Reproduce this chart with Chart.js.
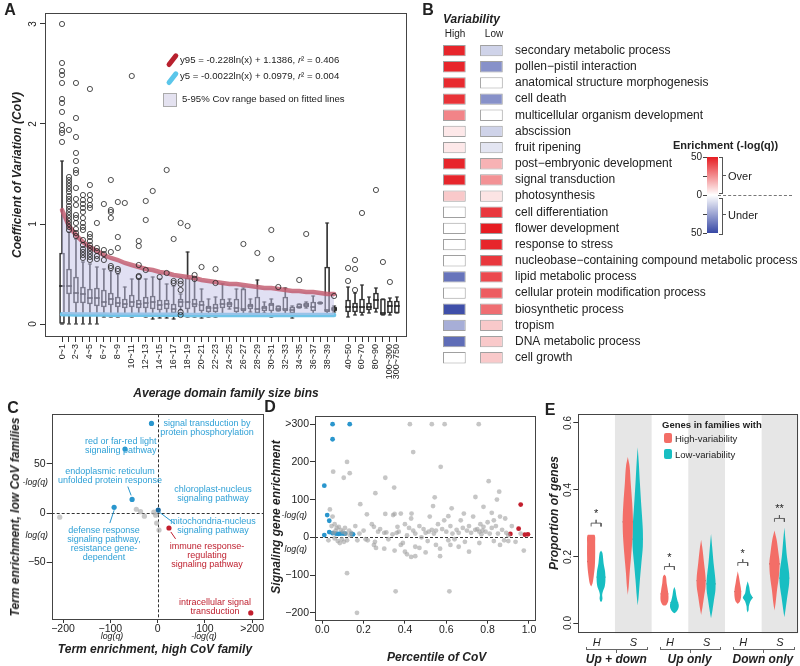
<!DOCTYPE html>
<html>
<head>
<meta charset="utf-8">
<script src="https://cdn.jsdelivr.net/npm/chart.js@4.4.1/dist/chart.umd.min.js"></script>
<style>
  html, body { margin:0; padding:0; background:#fff; }
  #fig { position:relative; width:800px; height:666px; overflow:hidden; font-family:"Liberation Sans", Arial, sans-serif; color:#222; }
  #fig canvas { position:absolute; }
  .t { position:absolute; white-space:nowrap; line-height:1; }
  .c { transform:translate(-50%,-50%); }
  .l { transform:translate(0,-50%); }
  .r { transform:translate(-100%,-50%); }
  .v { transform:translate(-50%,-50%) rotate(-90deg); }
  .b { transform:translate(-50%,0); text-align:center; }
  .bi { font-weight:bold; font-style:italic; }
  .ln { position:absolute; }
</style>
</head>
<body>
<div id="fig"></div>
<script>
// ===================================== Datos: panel A (cajas por bin) ==================
const binLabels = ["0~1","1~2","2~3","3~4","4~5","5~6","6~7","7~8","8~9","9~10","10~11","11~12","12~13","13~14","14~15","15~16","16~17","17~18","18~19","19~20",
  "20~21","21~22","22~23","23~24","24~25","25~26","26~27","27~28","28~29","29~30","30~31","31~32","32~33","33~34","34~35","35~36","36~37","37~38","38~39","39~40",
  "40~50","50~60","60~70","70~80","80~90","90~100","100~300","300~750"];
const boxLo  = [0,0,0,0,0,0,.07,.07,.07,.08,.07,.08,.07,.05,.06,.06,.05,.14,.07,.07,.06,.07,.07,.08,.15,.10,.10,.12,.10,.11,.07,.13,.10,.06,.16,.16,.08,.20,.09,.12, .07,.09,.09,.11,.12,.09,.09,.11];
const boxQ1  = [0,.30,.21,.21,.20,.18,.17,.19,.17,.16,.17,.16,.16,.15,.14,.15,.11,.17,.15,.17,.13,.12,.12,.16,.17,.12,.13,.15,.11,.13,.13,.13,.13,.11,.16,.17,.13,.205,.12,.13, .12,.12,.11,.14,.15,.09,.11,.11];
const boxMed = [.38,.38,.31,.30,.26,.26,.22,.25,.21,.20,.22,.20,.21,.22,.19,.20,.15,.22,.22,.20,.19,.16,.16,.20,.20,.16,.15,.18,.15,.16,.19,.15,.15,.14,.17,.19,.17,.21,.14,.15, .17,.17,.17,.17,.24,.11,.18,.18];
const boxQ3  = [.71,.55,.47,.37,.35,.36,.34,.31,.27,.25,.29,.24,.27,.28,.24,.24,.20,.25,.46,.25,.23,.18,.20,.25,.22,.25,.35,.20,.27,.18,.21,.18,.27,.17,.20,.21,.22,.215,.57,.17, .24,.21,.25,.21,.31,.25,.23,.23];
const boxHi  = [1.63,.92,.85,.62,.60,.57,.55,.53,.50,.37,.45,.45,.45,.47,.45,.40,.38,.30,.72,.45,.35,.25,.27,.40,.25,.35,.36,.25,.44,.22,.25,.18,.36,.18,.20,.22,.28,.22,1.01,.18, .37,.31,.39,.27,.36,.25,.26,.27];
const outCoV = [
  [3.0,2.61,2.53,2.49,2.41,2.25,2.21,2.12,1.99,1.94,1.91,1.82],
  [1.94,1.47,1.44,1.41,1.38,1.35,1.32,1.28,1.25,1.22,1.18,1.15,1.12,1.09,1.06,1.03,1.0,.97,.94],
  [2.41,2.06,1.87,1.71,1.63,1.54,1.51,1.36,1.25,1.19,1.09,1.06,1.01,.95,.91,.88],
  [1.29,1.24,1.2,1.16,1.12,1.06,1.01,.97,.94,.84,.79,.75,.72,.69,.66],
  [2.35,1.39,1.29,1.24,1.19,1.16,.9,.87,.83,.79,.76,.73,.70,.67,.64],
  [1.01,.76,.73,.68,.65], [1.20,.74,.70,.64], [1.44,1.14,1.12,1.06,.72,.58,.56], [1.22,.87,.76,.55,.53], [1.21],
  [2.48], [.83,.78,.59,.48,.47], [1.23,1.04,.54], [1.33], [.47], [1.54,.51], [.85,.43,.41], [1.01,.43,.40,.34,.12,.09], [.98], [.49,.45],
  [.57], [], [.55,.41], [], [], [], [.80], [], [.71], [],
  [.94,.65], [.37], [], [], [.44], [.90], [], [], [], [.28],
  [.56,.43], [.64,.55,.34], [1.11], [], [1.34], [.62], [.42], []
];
const y95Vals = [1.14,.98,.89,.82,.77,.73,.69,.66,.64,.61,.59,.57,.55,.54,.52,.51,.49,.48,.47,.46,.44,.43,.42,.41,.40,.40,.39,.38,.37,.36,.36,.35,.34,.33,.33,.32,.32,.31,.30,.30];
const y5Vals  = [.098,.097,.096,.095,.094,.094,.094,.093,.093,.093,.093,.092,.092,.092,.092,.092,.092,.092,.091,.091,.091,.091,.091,.091,.091,.091,.091,.091,.091,.091,.090,.090,.090,.090,.090,.090,.090,.090,.090,.090];
const ticksCoV = [0, 1, 2, 3];

// ===================================== Datos: panel B (enriquecimiento GO) ==================
const terminos = ["secondary metabolic process","pollen\u2212pistil interaction","anatomical structure morphogenesis","cell death",
  "multicellular organism development","abscission","fruit ripening","post\u2212embryonic development","signal transduction","photosynthesis",
  "cell differentiation","flower development","response to stress","nucleobase\u2212containing compound metabolic process","lipid metabolic process",
  "cellular protein modification process","biosynthetic process","tropism","DNA metabolic process","cell growth"];
const enrHigh = [48,48,47,45,27,5,5,48,48,12,0,0,0,0,-38,0,-48,-22,-40,0];
const enrLow  = [-12,-30,0,-30,0,-12,-7,17,24,6,44,50,48,44,40,36,32,12,12,12];

// ===================================== Datos: panel C ==================
const cGris = [[-207,-4],[-36,1.5],[-28,-3],[-4,-2],[-2,-10],[3,-17],[-8,1],[-45,4]];
const cAzul = [[-13,91],[-69,65],[-54,14],[-92,6]];
const cAzulOsc = [[1.3,3.2]];
const cRojo = [[24,-15],[197,-101]];
const cGuiasAzul = [[[-63,27],[-56,18]], [[-101,-10],[-92,3]], [[4,1],[37,-11]]];
const cGuiasRojo = [[[28,-19],[38,-26]]];

// ===================================== Datos: panel D ==================
const dGris = [
  [.424,300],[.53,300],[.592,300],[.757,300],
  [.12,200],[.133,170],[.053,174],[.104,158],[.44,226],[.573,187],[.305,158],[.348,132],[.257,117],[.805,149],[.856,121],[.845,100],[.741,107],[.544,106],[.184,88],[.037,74],
  [.536,83],[.61,56],[.626,77],[.216,61],[.305,62],[.343,59],[.432,63],[.38,63],[.685,63],[.78,81],[.82,65],[.885,50],[.917,30],[.364,28],
  [.12,-95],[.168,-200],[.355,-143],[.615,-143],
  [.45,-25],[.47,-28],[.5,-40],[.41,-45],[.43,-52],[.57,-50],[.57,-30],[.3,-30],[.25,-20],[.26,-28],[.35,-35],[.4,-38],[.66,-25],[.71,-38],[.55,-20],[.62,-20],
  [.39,-15],[.76,-15],[.83,-10],[.86,-20],[.9,-10],[.935,-12],[.975,-35],[.45,-50],
  [.03,-8],[.045,30],[.06,35],[.065,18],[.07,25],[.075,-10],[.08,28],[.085,-15],[.09,20],[.095,-5],[.1,15],[.105,-12],[.11,25],[.115,10],[.12,-8],[.13,18],[.135,5],
  [.06,-3],[.05,55],[.055,12],[.14,12],[.16,30],[.17,-8],[.18,10],[.2,18],[.21,-5],[.22,-8],[.24,35],[.25,28],[.255,-12],[.27,15],[.28,22],[.3,12],[.31,13],[.32,-5],
  [.34,8],[.35,62],[.36,12],[.37,15],[.38,-20],[.4,35],[.41,5],[.42,25],[.43,50],[.44,18],[.45,10],[.47,30],[.48,0],[.49,22],[.5,12],[.51,-10],[.515,15],[.52,55],
  [.53,20],[.54,10],[.55,18],[.56,35],[.58,22],[.59,45],[.6,15],[.61,-8],[.62,30],[.63,10],[.64,-5],[.65,20],[.66,12],[.67,45],[.68,25],[.69,-12],[.7,18],[.71,30],
  [.72,12],[.73,55],[.74,20],[.75,22],[.76,15],[.765,35],[.77,8],[.775,18],[.78,28],[.79,15],[.8,40],[.81,10],[.82,25],[.83,45],[.84,30],[.85,10],[.86,55],[.87,20],
  [.88,-8],[.89,12],[.9,5],[.96,10]
];
const dAzul = [[.010,6],[.024,59],[.034,44],[.034,14],[.010,137],[.050,260],[.050,300],[.133,300],[.05,11],[.066,10],[.077,9],[.089,10],[.101,10],[.111,10],[.143,9],[.149,8]];
const dRojo = [[.96,87],[.95,23],[.91,9],[.98,7],[.995,8]];

// ===================================== Datos: panel E (violines: [proporcion, semiancho]) ==================
const grupos = ["Up + down", "Up only", "Down only"];
const columnasE = ["H", "S", "H", "S", "H", "S"];
const violinAlta = [
  [[.265,0],[.264,.1],[.24,.11],[.2,.11],[.17,.1],[.14,.07],[.12,.04],[.11,0]],
  [[.498,0],[.47,.05],[.42,.08],[.36,.12],[.31,.14],[.26,.13],[.2,.09],[.15,.05],[.11,.025],[.085,0]],
  [[.146,0],[.14,.04],[.12,.06],[.1,.09],[.08,.11],[.065,.1],[.055,.05],[.053,0]],
  [[.25,0],[.22,.04],[.18,.08],[.14,.12],[.11,.12],[.08,.08],[.05,.04],[.025,0]],
  [[.156,0],[.14,.03],[.12,.06],[.1,.09],[.08,.09],[.065,.06],[.058,0]],
  [[.278,0],[.25,.06],[.21,.11],[.18,.14],[.14,.12],[.1,.07],[.06,.03],[.038,0]]
];
const violinBaja = [
  [[.218,0],[.21,.04],[.18,.07],[.155,.11],[.13,.12],[.11,.1],[.095,.05],[.085,.03],[.075,.04],[.067,.025],[.064,0]],
  [[.527,0],[.48,.03],[.42,.06],[.35,.1],[.28,.14],[.23,.14],[.18,.1],[.13,.06],[.08,.025],[.053,0]],
  [[.109,0],[.1,.03],[.085,.05],[.07,.08],[.055,.12],[.045,.11],[.035,.06],[.03,0]],
  [[.268,0],[.23,.03],[.18,.07],[.13,.12],[.1,.12],[.07,.08],[.04,.04],[.015,0]],
  [[.126,0],[.11,.04],[.09,.07],[.077,.13],[.065,.07],[.05,.03],[.04,.025],[.032,0]],
  [[.287,0],[.25,.03],[.2,.07],[.15,.13],[.12,.13],[.08,.08],[.04,.03],[.018,0]]
];
const medAlta = [.185,.304,.088,.128,.095,.178];
const medBaja = [.138,.252,.062,.118,.077,.135];
const sigCol = [0, 2, 4, 5];
const sigY = [.30, .17, .182, .314];
const sigTxt = ["*", "*", "*", "**"];
const ticksProp = [0, .2, .4, .6];

// ===================================== Utilidades ==================
Chart.defaults.font.family = '"Liberation Sans", Arial, sans-serif';
Chart.defaults.color = "#222";

const fig = document.getElementById("fig");

function lienzo(x, y, w, h) {
  const c = document.createElement("canvas");
  c.width = w; c.height = h;
  c.style.left = x + "px"; c.style.top = y + "px";
  c.style.width = w + "px"; c.style.height = h + "px";
  fig.appendChild(c);
  return c;
}

function texto(html, x, y, estilo, clase) {
  const d = document.createElement("div");
  d.className = "t " + (clase || "c");
  d.style.left = x + "px";
  d.style.top = y + "px";
  if (estilo) d.style.cssText += ";" + estilo;
  d.innerHTML = html;
  fig.appendChild(d);
  return d;
}

function linea(x, y, w, h, estilo) {
  const d = document.createElement("div");
  d.className = "ln";
  d.style.cssText = `left:${x}px;top:${y}px;width:${w}px;height:${h}px;` + (estilo || "");
  fig.appendChild(d);
  return d;
}

function opcionesBase(padding) {
  return {
    responsive: false,
    devicePixelRatio: 1,
    animation: false,
    events: [],
    layout: { padding },
    plugins: { legend: { display: false }, tooltip: { enabled: false } }
  };
}

function fijarTicks(valores) {
  return s => { s.ticks = valores.map(v => ({ value: v })); };
}

function menos(v) {
  return v < 0 ? "\u2212" + Math.abs(v) : String(v);
}

// marco alrededor del area del grafico
const marco = {
  id: "marco",
  afterDatasetsDraw(chart) {
    const { ctx, chartArea: a } = chart;
    ctx.save();
    ctx.strokeStyle = "#444";
    ctx.lineWidth = 1;
    ctx.strokeRect(Math.round(a.left) + 0.5, Math.round(a.top) + 0.5, Math.round(a.width) - 1, Math.round(a.height) - 1);
    ctx.restore();
  }
};

// lineas punteadas en cero
const ceros = {
  id: "ceros",
  beforeDatasetsDraw(chart, args, opts) {
    const { ctx, chartArea: a, scales } = chart;
    ctx.save();
    ctx.setLineDash([3, 2]);
    ctx.strokeStyle = "#333";
    ctx.lineWidth = 1;
    ctx.beginPath();
    if (opts.y) {
      const py = Math.round(scales.y.getPixelForValue(0)) + 0.5;
      ctx.moveTo(a.left, py); ctx.lineTo(a.right, py);
    }
    if (opts.x) {
      const px = Math.round(scales.x.getPixelForValue(0)) + 0.5;
      ctx.moveTo(px, a.top); ctx.lineTo(px, a.bottom);
    }
    ctx.stroke();
    ctx.restore();
  }
};

// bandas grises de las columnas S
const bandas = {
  id: "bandas",
  beforeDatasetsDraw(chart, args, opts) {
    const { ctx, chartArea: a, scales } = chart;
    ctx.save();
    ctx.fillStyle = "#e6e6e6";
    opts.cols.forEach(k => {
      const x0 = scales.x.getPixelForValue(k), x1 = scales.x.getPixelForValue(k + 1);
      ctx.fillRect(x0, a.top, x1 - x0, a.bottom - a.top);
    });
    ctx.restore();
  }
};

function colorEnr(v) {
  const t = Math.min(Math.abs(v) / 50, 1);
  const fin = v >= 0 ? [230, 28, 34] : [55, 72, 165];
  const c = fin.map(f => Math.round(255 + (f - 255) * t));
  return `rgb(${c[0]},${c[1]},${c[2]})`;
}

// ===================================== Panel A ==================
const posA = binLabels.map((l, i) => i < 40 ? i + 1 : i + 2);
const etiquetasA = binLabels.map((l, i) => (i < 40 ? i % 2 === 0 : [40, 42, 44, 46, 47].includes(i)) ? l : "");

const puntosOut = [];
outCoV.forEach((vals, i) => vals.forEach(v => puntosOut.push({ x: posA[i], y: v })));

const chartA = new Chart(lienzo(0, 0, 415, 400), {
  type: "bar",
  data: {
    datasets: [
      { type: "line", data: puntosOut, showLine: false, pointStyle: "circle", pointRadius: 2.6, pointBorderWidth: 0.8,
        pointBorderColor: "#222", pointBackgroundColor: "rgba(0,0,0,0)", order: 0 },
      { type: "line", data: y95Vals.map((v, i) => ({ x: i + 1, y: v })), borderColor: "rgba(192,86,106,0.8)", borderWidth: 4.5,
        borderCapStyle: "round", pointRadius: 0, fill: "+1", backgroundColor: "rgba(196,194,232,0.5)", order: 1 },
      { type: "line", data: y5Vals.map((v, i) => ({ x: i + 1, y: v })), borderColor: "rgb(112,196,232)", borderWidth: 4.5,
        borderCapStyle: "round", pointRadius: 0, fill: false, order: 2 },
      { type: "line", data: boxMed.map((v, i) => ({ x: posA[i], y: v })), showLine: false, pointStyle: "line", pointRadius: 2.8,
        pointBorderWidth: 1.6, pointBorderColor: "#222", order: 3 },
      { type: "bar", data: boxQ1.map((v, i) => ({ x: posA[i], y: [v, boxQ3[i]] })), backgroundColor: "rgba(255,255,255,0)",
        borderColor: "#333", borderWidth: 1, borderSkipped: false, barThickness: 5, grouped: false, order: 4 },
      { type: "line", data: boxLo.map((v, i) => ({ x: posA[i], y: v })).concat(boxHi.map((v, i) => ({ x: posA[i], y: v }))),
        showLine: false, pointStyle: "line", pointRadius: 2, pointBorderWidth: 1, pointBorderColor: "#222", order: 5 },
      { type: "bar", data: boxLo.map((v, i) => ({ x: posA[i], y: [v, boxQ1[i]] })), backgroundColor: "#333",
        barThickness: 1, grouped: false, order: 6 },
      { type: "bar", data: boxQ3.map((v, i) => ({ x: posA[i], y: [v, boxHi[i]] })), backgroundColor: "#333",
        barThickness: 1, grouped: false, order: 7 }
    ]
  },
  options: Object.assign(opcionesBase({ left: 0, top: 13, right: 8, bottom: 0 }), {
    scales: {
      x: {
        type: "linear", min: -1.44, max: 50.45, offset: false,
        afterBuildTicks: fijarTicks(posA),
        afterFit: s => { s.height = 63; },
        ticks: { autoSkip: false, minRotation: 90, maxRotation: 90, font: { size: 9 }, padding: 2, callback: (v, i) => etiquetasA[i] },
        grid: { drawOnChartArea: false, tickLength: 5, color: "#333", offset: false },
        border: { display: false }
      },
      y: {
        min: -0.13, max: 3.11,
        afterBuildTicks: fijarTicks(ticksCoV),
        afterFit: s => { s.width = 45; },
        ticks: { display: false },
        grid: { drawOnChartArea: false, tickLength: 5, color: "#333" },
        border: { display: false }
      }
    }
  }),
  plugins: [marco]
});

// ===================================== Panel B ==================
const colHigh = [0, 1];
const colLow = [1.63, 2.63];
const estiloCelda = { barPercentage: 0.7, categoryPercentage: 1, grouped: false, borderColor: "#a0a0a0", borderWidth: 1, borderSkipped: false };

const chartB = new Chart(lienzo(420, 0, 380, 380), {
  type: "bar",
  data: {
    labels: terminos,
    datasets: [
      Object.assign({ data: enrHigh.map(() => colHigh), backgroundColor: enrHigh.map(colorEnr) }, estiloCelda),
      Object.assign({ data: enrLow.map(() => colLow), backgroundColor: enrLow.map(colorEnr) }, estiloCelda)
    ]
  },
  options: Object.assign(opcionesBase({ left: 23, top: 42.5, right: 0, bottom: 9.1 }), {
    indexAxis: "y",
    scales: {
      x: { display: false, min: 0, max: 2.86 },
      y: {
        position: "right",
        grid: { display: false, drawTicks: false },
        border: { display: false },
        ticks: { autoSkip: false, font: { size: 12 }, padding: 7, color: "#222" },
        afterFit: s => { s.width = 292; }
      }
    }
  })
});

// ===================================== Panel C ==================
const puntos = arr => arr.map(p => ({ x: p[0], y: p[1] }));
const guias = (arr, color) => arr.map(g => ({ type: "line", data: puntos(g), showLine: true, borderColor: color, borderWidth: 1, pointRadius: 0 }));

const chartC = new Chart(lienzo(0, 400, 268, 266), {
  type: "scatter",
  data: {
    datasets: [
      ...guias(cGuiasAzul, "rgb(42,150,205)"),
      ...guias(cGuiasRojo, "rgb(190,30,45)"),
      { data: puntos(cGris), pointRadius: 2.6, backgroundColor: "rgba(170,170,170,0.65)", borderWidth: 0 },
      { data: puntos(cAzul), pointRadius: 2.6, backgroundColor: "rgb(42,150,205)", borderWidth: 0 },
      { data: puntos(cAzulOsc), pointRadius: 2.6, backgroundColor: "rgb(25,105,160)", borderWidth: 0 },
      { data: puntos(cRojo), pointRadius: 2.6, backgroundColor: "rgb(195,30,45)", borderWidth: 0 }
    ]
  },
  options: Object.assign(opcionesBase({ left: 0, top: 14.3, right: 3.7, bottom: 0 }), {
    scales: {
      x: {
        min: -224, max: 225,
        afterBuildTicks: fijarTicks([-200, -100, 0, 100, 200]),
        afterFit: s => { s.height = 46; },
        ticks: { font: { size: 10.5 }, padding: 0, callback: v => v === 200 ? ">200" : menos(v) },
        grid: { drawOnChartArea: false, tickLength: 3, color: "#333" },
        border: { display: false }
      },
      y: {
        min: -108.2, max: 100.2,
        afterBuildTicks: fijarTicks([-50, 0, 50]),
        afterFit: s => { s.width = 51.7; },
        ticks: { font: { size: 10.5 }, padding: 1, callback: v => menos(v) },
        grid: { drawOnChartArea: false, tickLength: 5, color: "#333" },
        border: { display: false }
      }
    },
    plugins: { legend: { display: false }, tooltip: { enabled: false }, ceros: { x: true, y: true } }
  }),
  plugins: [marco, ceros]
});

// ===================================== Panel D ==================
const chartD = new Chart(lienzo(268, 400, 272, 266), {
  type: "scatter",
  data: {
    datasets: [
      { data: puntos(dGris), pointRadius: 2.4, backgroundColor: "rgba(160,160,160,0.6)", borderWidth: 0 },
      { data: puntos(dAzul), pointRadius: 2.4, backgroundColor: "rgb(42,150,205)", borderWidth: 0 },
      { data: puntos(dRojo), pointRadius: 2.4, backgroundColor: "rgb(195,30,45)", borderWidth: 0 }
    ]
  },
  options: Object.assign(opcionesBase({ left: 0, top: 15.7, right: 2, bottom: 0 }), {
    scales: {
      x: {
        min: -0.035, max: 1.034,
        afterBuildTicks: fijarTicks([0, .2, .4, .6, .8, 1]),
        afterFit: s => { s.height = 45.3; },
        ticks: { font: { size: 10.5 }, padding: 0, callback: v => v.toFixed(1) },
        grid: { drawOnChartArea: false, tickLength: 3, color: "#333" },
        border: { display: false }
      },
      y: {
        min: -221, max: 322.5,
        afterBuildTicks: fijarTicks([-200, -100, 0, 100, 200, 300]),
        afterFit: s => { s.width = 47; },
        ticks: { font: { size: 10.5 }, padding: 1, callback: v => v === 300 ? ">300" : menos(v) },
        grid: { drawOnChartArea: false, tickLength: 5, color: "#333" },
        border: { display: false }
      }
    },
    plugins: { legend: { display: false }, tooltip: { enabled: false }, ceros: { y: true } }
  }),
  plugins: [marco, ceros]
});

// ===================================== Panel E ==================
const despAlta = 0.35, despBaja = 0.62;

function anchoEn(perfil, y) {
  for (let i = 0; i < perfil.length - 1; i++) {
    const [y0, w0] = perfil[i], [y1, w1] = perfil[i + 1];
    if (y <= y0 && y >= y1) return w0 + (w1 - w0) * (y0 - y) / (y0 - y1);
  }
  return 0;
}

function violin(perfil, cx, color) {
  const izq = perfil.map(p => ({ x: cx - p[1], y: p[0] }));
  const der = perfil.slice().reverse().map(p => ({ x: cx + p[1], y: p[0] }));
  return { type: "line", data: izq.concat(der), showLine: true, fill: "shape", backgroundColor: color,
           borderWidth: 0, pointRadius: 0, tension: 0.3 };
}

function mediana(perfil, cx, y, color) {
  const w = anchoEn(perfil, y);
  return { type: "line", data: [{ x: cx - w, y }, { x: cx + w, y }], showLine: true, borderColor: color, borderWidth: 1.3, pointRadius: 0 };
}

const dsE = [];
violinAlta.forEach((p, k) => {
  dsE.push(violin(p, k + despAlta, "rgb(243,110,103)"));
  dsE.push(mediana(p, k + despAlta, medAlta[k], "#5a1e1e"));
});
violinBaja.forEach((p, k) => {
  dsE.push(violin(p, k + despBaja, "rgb(24,190,194)"));
  dsE.push(mediana(p, k + despBaja, medBaja[k], "#0d4444"));
});
sigCol.forEach((k, i) => {
  const y = sigY[i], x1 = k + despAlta, x2 = k + despBaja, xm = (x1 + x2) / 2, d = 0.01;
  dsE.push({ type: "line", data: [{ x: x1, y: y - d }, { x: x1, y }, { x: xm, y }, { x: xm, y: y + d }, { x: xm, y }, { x: x2, y }, { x: x2, y: y - d }],
             showLine: true, borderColor: "#555", borderWidth: 0.9, pointRadius: 0 });
});

const chartE = new Chart(lienzo(540, 400, 260, 266), {
  type: "scatter",
  data: { datasets: dsE },
  options: Object.assign(opcionesBase({ left: 0, top: 14.3, right: 1.7, bottom: 32.7 }), {
    scales: {
      x: { display: false, min: 0, max: 6 },
      y: {
        min: -0.03, max: 0.626,
        afterBuildTicks: fijarTicks(ticksProp),
        afterFit: s => { s.width = 38.3; },
        ticks: { display: false },
        grid: { drawOnChartArea: false, tickLength: 5, color: "#333" },
        border: { display: false }
      }
    },
    plugins: { legend: { display: false }, tooltip: { enabled: false }, bandas: { cols: [1, 3, 5] } }
  }),
  plugins: [bandas, marco]
});

// ===================================== Textos: panel A ==================
texto("A", 10, 10, "font-weight:bold;font-size:16px");
ticksCoV.forEach(v => texto(String(v), 33, chartA.scales.y.getPixelForValue(v), "font-size:10px", "v"));
texto("Coefficient of Variation (CoV)", 17, 175, "font-size:12px", "v bi");
texto("Average domain family size bins", 226, 393, "font-size:12px", "c bi");
linea(169.5, 52, 4.5, 16, "background:#b8202e;border-radius:3px;transform:rotate(38deg)");
linea(169.5, 69.5, 4.5, 16, "background:#5bc6ea;border-radius:3px;transform:rotate(38deg)");
texto("y95 = -0.228ln(x) + 1.1386, <i>r</i>\u00b2 = 0.406", 180, 60, "font-size:9.6px", "l");
texto("y5 = -0.0022ln(x) + 0.0979, <i>r</i>\u00b2 = 0.004", 180, 76.3, "font-size:9.6px", "l");
linea(163, 93, 12, 12, "background:#e4e2f0;border:1.5px solid #aaa");
texto("5-95% Cov range based on fitted lines", 182, 99.3, "font-size:9.6px", "l");

// ===================================== Textos: panel B ==================
texto("B", 428, 10, "font-weight:bold;font-size:16px");
texto("Variability", 443, 19, "font-size:12px", "l bi");
texto("High", 455, 34, "font-size:10px");
texto("Low", 494, 34, "font-size:10px");
texto("Enrichment (-log(q))", 673, 145, "font-weight:bold;font-size:11px", "l");
linea(707, 157, 11, 76, `background:linear-gradient(to bottom, ${colorEnr(50)} 0%, #fff 50%, ${colorEnr(-50)} 100%)`);
[50, 25, 0, -25, -50].forEach(v => linea(703, 157 + (50 - v) / 100 * 76, 4, 0, "border-top:1px solid #444"));
texto("50", 702, 157, "font-size:10px", "r");
texto("0", 702, 195, "font-size:10px", "r");
texto("50", 702, 233, "font-size:10px", "r");
linea(718, 195, 74, 0, "border-top:1px dashed #777");
linea(719, 157, 3, 35, "border:1px solid #555;border-left:none");
linea(722, 175, 4, 0, "border-top:1px solid #555");
texto("Over", 728, 175.5, "font-size:11px", "l");
linea(719, 198, 3, 35, "border:1px solid #555;border-left:none");
linea(722, 214, 4, 0, "border-top:1px solid #555");
texto("Under", 728, 214.5, "font-size:11px", "l");

// ===================================== Textos: panel C ==================
const azulTxt = "font-size:9px;line-height:9px;color:rgb(46,160,214)";
const rojoTxt = "font-size:9px;line-height:9px;color:rgb(190,30,45)";
const logTxt = "font-size:8.8px;font-style:italic";
texto("C", 13, 408, "font-weight:bold;font-size:16px");
texto("signal transduction by<br>protein phosphorylation", 207, 418.8, azulTxt, "b");
texto("red or far-red light<br>signaling pathway", 120.7, 436.5, azulTxt, "b");
texto("endoplasmic reticulum<br>unfolded protein response", 110, 467.2, azulTxt, "b");
texto("chloroplast-nucleus<br>signaling pathway", 213, 484.8, azulTxt, "b");
texto("mitochondria-nucleus<br>signaling pathway", 213, 517.2, azulTxt, "b");
texto("defense response<br>signaling pathway,<br>resistance gene-<br>dependent", 104, 526.2, azulTxt, "b");
texto("immune response-<br>regulating<br>signaling pathway", 207, 542.2, rojoTxt, "b");
texto("intracellular signal<br>transduction", 215, 597.8, rojoTxt, "b");
texto("-log(q)", 48, 481.7, logTxt, "r");
texto("log(q)", 48, 535, logTxt, "r");
texto("log(q)", 112, 636, logTxt);
texto("-log(q)", 204, 636, logTxt);
texto("Term enrichment, high CoV family", 155, 649, "font-size:12px", "c bi");
texto("Term enrichment, low CoV families", 15, 516.7, "font-size:12px", "v bi");

// ===================================== Textos: panel D ==================
texto("D", 270, 407, "font-weight:bold;font-size:16px");
texto("-log(q)", 307, 515, logTxt, "r");
texto("log(q)", 307, 549, logTxt, "r");
texto("Signaling gene enrichment", 276, 517, "font-size:12px", "v bi");
texto("Percentile of CoV", 436.7, 656.7, "font-size:12px", "c bi");

// ===================================== Textos: panel E ==================
texto("E", 550, 410, "font-weight:bold;font-size:16px");
ticksProp.forEach(v => texto(v.toFixed(1), 567.5, 400 + chartE.scales.y.getPixelForValue(v), "font-size:10px", "v"));
texto("Proportion of genes", 554, 513, "font-size:12px", "v bi");
sigCol.forEach((k, i) => {
  const x = 540 + chartE.scales.x.getPixelForValue(k + (despAlta + despBaja) / 2);
  const y = 400 + chartE.scales.y.getPixelForValue(sigY[i] + 0.03);
  texto(sigTxt[i], x, y, "font-size:11px");
});
columnasE.forEach((c, k) => {
  texto(c, 540 + chartE.scales.x.getPixelForValue(k + 0.5), 642, "font-size:11px;font-style:italic");
});
grupos.forEach((g, j) => {
  const x0 = 540 + chartE.scales.x.getPixelForValue(2 * j + 0.22);
  const x1 = 540 + chartE.scales.x.getPixelForValue(2 * j + 1.85);
  linea(x0, 647, x1 - x0, 2, "border:1px solid #666;border-top:none");
  linea((x0 + x1) / 2, 650, 0, 3, "border-left:1px solid #666");
  texto(g, (x0 + x1) / 2, 659, "font-size:12px", "c bi");
});
texto("Genes in families with", 662, 425, "font-weight:bold;font-size:9.5px", "l");
linea(664, 433, 8, 10, "background:rgb(243,110,103);border-radius:2px");
texto("High-variability", 675, 438.5, "font-size:9.5px", "l");
linea(664, 449, 8, 10, "background:rgb(24,190,194);border-radius:2px");
texto("Low-variability", 675, 454.5, "font-size:9.5px", "l");
</script>
</body>
</html>
